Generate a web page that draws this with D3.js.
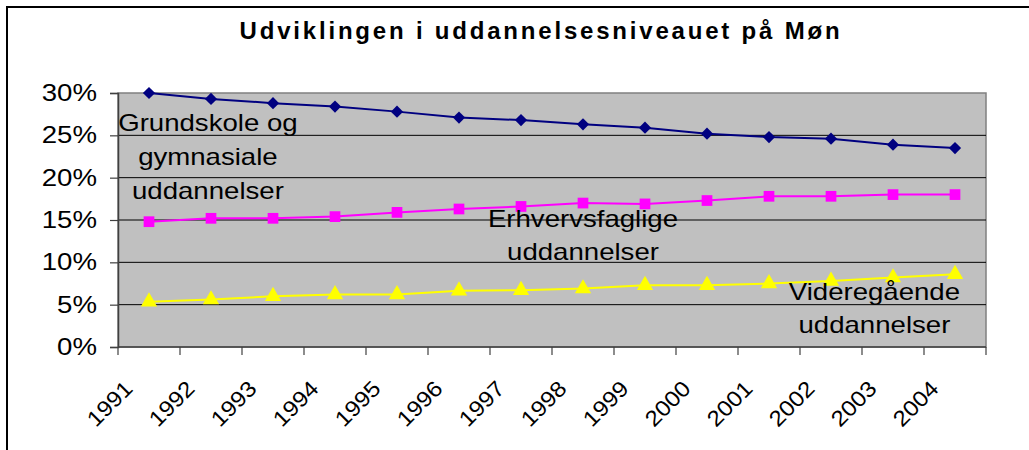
<!DOCTYPE html>
<html>
<head>
<meta charset="utf-8">
<script src="https://cdn.jsdelivr.net/npm/d3@7"></script>
<style>
  body { margin: 0; background: #fff; }
  text { font-family: "Liberation Sans", Arial, sans-serif; fill: #000; }
</style>
</head>
<body>
<div id="chart"></div>
<script>
// Data (percent)
var years = ["1991", "1992", "1993", "1994", "1995", "1996", "1997", "1998", "1999", "2000", "2001", "2002", "2003", "2004"];
var grundskole = [30.0, 29.3, 28.8, 28.4, 27.8, 27.1, 26.8, 26.3, 25.9, 25.2, 24.8, 24.6, 23.9, 23.5];
var erhverv = [14.8, 15.2, 15.2, 15.4, 15.9, 16.3, 16.6, 17.0, 16.9, 17.3, 17.8, 17.8, 18.0, 18.0];
var videre = [5.35, 5.6, 6.0, 6.2, 6.2, 6.65, 6.7, 6.9, 7.3, 7.3, 7.5, 7.8, 8.2, 8.6];
var yTicks = [0, 5, 10, 15, 20, 25, 30];

var series = [
  { name: ["Grundskole og", "gymnasiale", "uddannelser"], values: grundskole, color: "#000080", symbol: d3.symbolSquare, size: 75, rotate: 45, label: { i: 0.95, y: [131, 165, 199] } },
  { name: ["Erhvervsfaglige", "uddannelser"], values: erhverv, color: "#ff00ff", symbol: d3.symbolSquare, size: 115, rotate: 0, label: { i: 7, y: [227, 260] } },
  { name: ["Videregående", "uddannelser"], values: videre, color: "#ffff00", symbol: d3.symbolTriangle, size: 115, rotate: 0, label: { i: 11.7, y: [300, 333] } }
];

var width = 1029, height = 450;
var margin = { left: 118, right: 43, top: 93, bottom: 103 };

var svg = d3.select("#chart").append("svg")
  .attr("width", width)
  .attr("height", height);

// outer chart frame
svg.append("path")
  .attr("d", "M7," + height + "V7H" + width)
  .attr("fill", "none")
  .attr("stroke", "#000")
  .attr("stroke-width", 2);

// title
svg.append("text")
  .attr("x", 541)
  .attr("y", 39)
  .attr("text-anchor", "middle")
  .style("font-size", "24px")
  .style("font-weight", "bold")
  .style("letter-spacing", "2.8px")
  .text("Udviklingen i uddannelsesniveauet på Møn");

var x = d3.scaleBand()
  .domain(years)
  .range([margin.left, width - margin.right]);

var y = d3.scaleLinear()
  .domain([0, 30])
  .range([height - margin.bottom, margin.top]);

// plot area
svg.append("rect")
  .attr("x", x.range()[0])
  .attr("y", y(30))
  .attr("width", x.range()[1] - x.range()[0])
  .attr("height", y(0) - y(30))
  .attr("fill", "#c0c0c0")
  .attr("stroke", "#808080")
  .attr("stroke-width", 1.5);

// gridlines
svg.append("g")
  .selectAll("line")
  .data(yTicks.filter(d => d > 0 && d < 30))
  .enter()
  .append("line")
  .attr("x1", x.range()[0])
  .attr("x2", x.range()[1])
  .attr("y1", d => y(d))
  .attr("y2", d => y(d))
  .attr("stroke", "#000")
  .attr("stroke-width", 1);

// y axis
var yAxis = svg.append("g")
  .attr("transform", "translate(" + margin.left + ",0)")
  .call(d3.axisLeft(y).tickValues(yTicks).tickSize(8).tickFormat(d => d + "%"));
yAxis.select(".domain").attr("stroke", "#404040").attr("stroke-width", 1.5);
yAxis.selectAll(".tick line").attr("stroke", "#404040").attr("stroke-width", 1.2);
yAxis.selectAll(".tick text")
  .attr("x", null)
  .attr("dy", null)
  .attr("dominant-baseline", "middle")
  .attr("transform", "translate(-21,1) scale(1.15,1)")
  .style("font-size", "24px")
  .style("font-family", "'Liberation Sans', Arial, sans-serif");

// x axis: ticks sit on the category boundaries
var xAxis = svg.append("g")
  .attr("transform", "translate(0," + y(0) + ")");
xAxis.append("line")
  .attr("x1", x.range()[0])
  .attr("x2", x.range()[1])
  .attr("stroke", "#404040")
  .attr("stroke-width", 1.5);
xAxis.selectAll(".xtick")
  .data(years.concat(["end"]))
  .enter()
  .append("line")
  .attr("x1", d => d === "end" ? x.range()[1] : x(d))
  .attr("x2", d => d === "end" ? x.range()[1] : x(d))
  .attr("y1", 0)
  .attr("y2", 8)
  .attr("stroke", "#404040")
  .attr("stroke-width", 1.2);
xAxis.selectAll(".xlabel")
  .data(years)
  .enter()
  .append("text")
  .attr("text-anchor", "end")
  .attr("transform", d => "translate(" + (x(d) + x.bandwidth() / 2 - 15) + ",43) rotate(-45) scale(1.1,1)")
  .style("font-size", "22px")
  .text(d => d);

// lines and markers
var line = d3.line()
  .x((d, i) => x(years[i]) + x.bandwidth() / 2)
  .y(d => y(d));

series.forEach(s => {
  svg.append("path")
    .datum(s.values)
    .attr("d", line)
    .attr("fill", "none")
    .attr("stroke", s.color)
    .attr("stroke-width", 2);

  svg.append("g")
    .selectAll("path")
    .data(s.values)
    .enter()
    .append("path")
    .attr("d", d3.symbol().type(s.symbol).size(s.size))
    .attr("transform", (d, i) => "translate(" + (x(years[i]) + x.bandwidth() / 2) + "," + y(d) + ") rotate(" + s.rotate + ")")
    .attr("fill", s.color);
});

// series labels inside the plot
series.forEach(s => {
  var cx = x.range()[0] + x.step() * (s.label.i + 0.5);
  s.name.forEach((t, k) => {
    svg.append("text")
      .attr("text-anchor", "middle")
      .attr("transform", "translate(" + cx + "," + s.label.y[k] + ") scale(1.2,1)")
      .style("font-size", "23px")
      .text(t);
  });
});
</script>
</body>
</html>
